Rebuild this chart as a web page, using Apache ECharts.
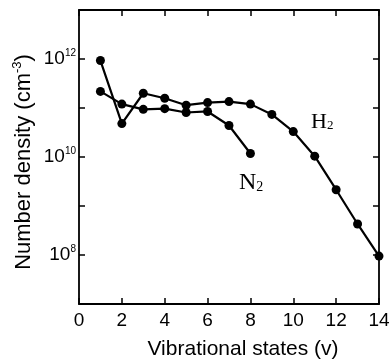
<!DOCTYPE html>
<html>
<head>
<meta charset="utf-8">
<script src="https://cdn.jsdelivr.net/npm/echarts@6/dist/echarts.min.js"></script>
<style>
  html, body { margin: 0; padding: 0; background: #fff; }
  #chart { width: 390px; height: 360px; }
</style>
</head>
<body>
<div id="chart"></div>
<script>
// vibrational states v
const statesH2 = [1, 2, 3, 4, 5, 6, 7, 8, 9, 10, 11, 12, 13, 14];
const statesN2 = [1, 2, 3, 4, 5, 6, 7, 8];
// number density (cm^-3)
const densityH2 = [9.3e11, 4.8e10, 2.0e11, 1.58e11, 1.14e11, 1.29e11, 1.35e11, 1.2e11, 7.4e10, 3.3e10, 1.04e10, 2.15e9, 4.3e8, 9.5e7];
const densityN2 = [2.18e11, 1.2e11, 9.4e10, 9.7e10, 8.1e10, 8.5e10, 4.4e10, 1.18e10];
const yLabelExps = [8, 10, 12];

const sans = "Liberation Sans, Arial, sans-serif";
const serif = "Liberation Serif, Times New Roman, serif";

const chart = echarts.init(document.getElementById("chart"));

const line = { color: "#000", width: 1.8 };
const tick = { show: true, inside: true, length: 6, lineStyle: { color: "#000", width: 1.5 } };

function pairs(xs, ys) {
  return xs.map((x, i) => [x, ys[i]]);
}

const option = {
  animation: false,
  backgroundColor: "#fff",
  grid: { left: 79, right: 11, top: 10, bottom: 56, containLabel: false, outerBoundsMode: "none" },
  xAxis: [
    {
      type: "value",
      position: "bottom",
      min: 0,
      max: 14,
      interval: 2,
      axisLine: { show: true, onZero: false, lineStyle: line },
      axisTick: tick,
      splitLine: { show: false },
      axisLabel: { color: "#000", fontFamily: sans, fontSize: 19, margin: 7 },
      name: "Vibrational states (v)",
      nameLocation: "middle",
      nameGap: 35,
      nameTextStyle: { color: "#000", fontFamily: sans, fontSize: 21, padding: [0, 0, 0, 28] }
    },
    {
      type: "value",
      position: "top",
      min: 0,
      max: 14,
      interval: 2,
      axisLine: { show: true, onZero: false, lineStyle: line },
      axisTick: tick,
      splitLine: { show: false },
      axisLabel: { show: false }
    }
  ],
  yAxis: [
    {
      type: "log",
      logBase: 10,
      position: "left",
      min: 1e7,
      max: 1e13,
      axisLine: { show: true, onZero: false, lineStyle: line },
      axisTick: tick,
      minorTick: { show: false },
      splitLine: { show: false },
      axisLabel: {
        margin: 3,
        formatter: function (v) {
          const e = Math.round(Math.log10(v));
          return yLabelExps.includes(e) ? "{b|10}{s|" + e + "}" : "";
        },
        rich: {
          b: { color: "#000", fontFamily: sans, fontSize: 19 },
          s: { color: "#000", fontFamily: sans, fontSize: 10, verticalAlign: "top", padding: [0, 0, 11, 0] }
        }
      }
    },
    {
      type: "log",
      logBase: 10,
      position: "right",
      min: 1e7,
      max: 1e13,
      axisLine: { show: true, onZero: false, lineStyle: line },
      axisTick: tick,
      minorTick: { show: false },
      splitLine: { show: false },
      axisLabel: { show: false }
    }
  ],
  series: [
    {
      name: "H2",
      type: "line",
      data: pairs(statesH2, densityH2),
      symbol: "circle",
      symbolSize: 9,
      itemStyle: { color: "#000" },
      lineStyle: { color: "#000", width: 2.2 }
    },
    {
      name: "N2",
      type: "line",
      data: pairs(statesN2, densityN2),
      symbol: "circle",
      symbolSize: 9,
      itemStyle: { color: "#000" },
      lineStyle: { color: "#000", width: 2.2 }
    }
  ],
  graphic: [
    {
      // y axis title
      type: "text",
      x: 24,
      y: 162,
      rotation: Math.PI / 2,
      style: {
        text: "{a|Number density (cm}{s|-3}{a|)}",
        align: "center",
        verticalAlign: "middle",
        rich: {
          a: { fill: "#000", fontFamily: sans, fontSize: 22 },
          s: { fill: "#000", fontFamily: sans, fontSize: 13, padding: [0, 0, 13, 0] }
        }
      }
    },
    {
      type: "text",
      left: 311,
      top: 111,
      style: {
        text: "{m|H}{s|2}",
        rich: {
          m: { fill: "#000", fontFamily: serif, fontSize: 22 },
          s: { fill: "#000", fontFamily: serif, fontSize: 13, padding: [8, 0, 0, 0] }
        }
      }
    },
    {
      type: "text",
      left: 239,
      top: 171,
      style: {
        text: "{m|N}{s|2}",
        rich: {
          m: { fill: "#000", fontFamily: serif, fontSize: 24 },
          s: { fill: "#000", fontFamily: serif, fontSize: 14, padding: [8, 0, 0, 0] }
        }
      }
    }
  ]
};

chart.setOption(option);
window.addEventListener("resize", () => {
  chart.resize();
});
</script>
</body>
</html>
